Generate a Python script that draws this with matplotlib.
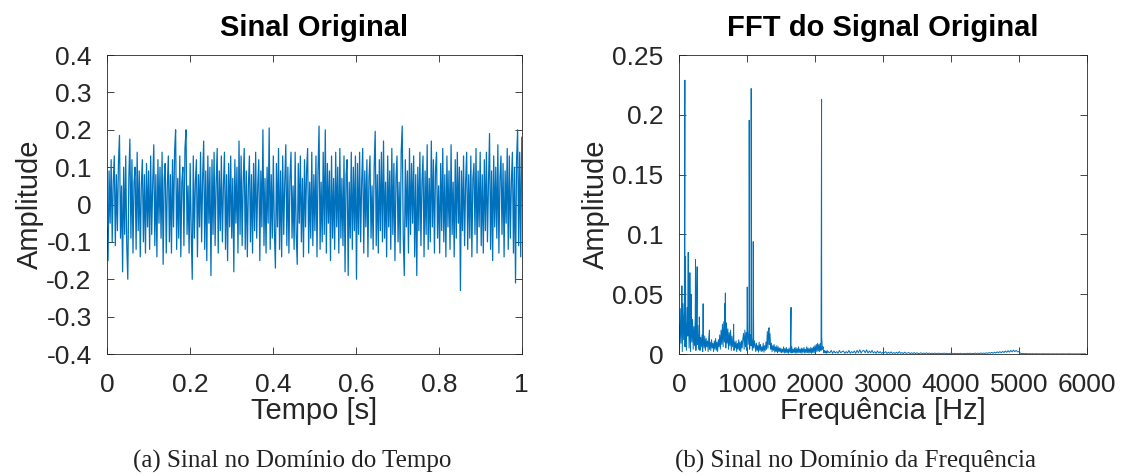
import numpy as np
import matplotlib
matplotlib.use('Agg')
import matplotlib.pyplot as plt

plt.rcParams['font.family'] = ['Liberation Sans', 'DejaVu Sans']
plt.rcParams['axes.unicode_minus'] = False

# Time-domain signal, amplitude in thousandths
signal_milli = [
    -60, -150, 90, -50, 120, -100, 60, 130, -110, 80, -70, 110, 185, -90, 50, -180, 100, -80, 130, -110,
    -200, 70, 175, -90, 120, -130, 60, 100, -120, 140, -70, 90, -140, 50, 120, -100, 80, -130, 110, -60,
    90, -120, 130, -80, 60, 160, -110, 80, -140, 120, -50, 100, -90, 140, -160, 70, 110, -130, 50, 130,
    -100, 80, -130, 120, -60, 140, 200, -120, 70, -90, 130, -140, 60, 100, -110, 150, 200, -80, 50, -130,
    110, -70, -200, 130, -90, 60, 120, -140, 80, -60, 140, -100, 70, 170, -120, 90, -150, 130, -50, 100,
    -190, 120, -80, 140, -110, 60, 150, -130, 90, -70, 130, -100, 50, 140, -120, 80, -150, 110, -60, 130,
    -90, 70, -180, 120, -50, 100, -130, 170, -80, 130, -110, 60, 150, -120, 90, -140, 50, 130, -100, 80,
    -130, 110, -70, 140, -90, 50, 120, -150, 90, -60, 200, -110, 70, -130, 100, -50, 205, -120, 80, -90,
    130, -70, -170, 110, -60, 150, -120, 90, -140, 130, -80, 60, 160, -110, 100, -130, 70, 140, -90, 50,
    -120, 140, -80, -160, 110, -50, 130, -100, 70, -140, 120, -60, 90, 150, -130, 60, -90, 140, -110, 80,
    -70, 130, -140, 90, 210, -120, 60, -100, 140, -80, 200, -130, 110, -50, 90, -150, 130, -90, 70, -120,
    140, -60, 100, -130, 150, -90, 70, -110, 130, -180, 80, 120, -190, 60, -90, 140, -120, 100, -70, 130,
    -200, 110, -80, 140, -100, 60, 150, -130, 90, -60, 120, -140, 70, 130, -90, 50, -120, 100, 196, -110,
    80, -130, 120, -70, 140, -100, 170, -90, 60, -140, 130, -60, 90, -120, 150, -80, 110, -150, 70, 130,
    -100, 60, -130, 140, 210, -90, -190, 120, -60, 90, -130, 150, -80, 110, -50, 130, -140, 80, -190, 100,
    -70, 140, -110, 60, 130, -140, 90, -80, 160, -120, 70, -100, 170, -60, 120, -130, 90, 140, -90, 50,
    -130, 110, -70, 150, -100, 80, -140, 130, -60, 90, -120, 160, -80, 60, -140, 120, -90, 140, -50, 100,
    -230, 90, -70, 130, -110, 60, 140, -120, 80, -90, 130, -140, 70, 110, -80, 150, -130, 90, -60, 140,
    -110, 80, -130, 120, -70, 140, -100, 60, 190, -120, 90, -150, 130, -60, 100, -90, 160, -130, 70, 130,
    -80, 110, -140, 90, -50, 150, -120, 130, -90, 60, 140, -130, 100, -210, 120, 200, -110, 140, -140, 180,
]

# Spectrum floor, 0-2190 Hz on a 10 Hz grid, units of 1e-4
floor_low = [
    250, 40, 380, 90, 300, 20, 420, 120, 350, 60, 280, 30, 390, 150, 320, 50, 260, 20, 340, 100,
    290, 40, 230, 70, 310, 30, 200, 80, 240, 40,
    170, 30, 140, 60, 160, 20, 120, 50, 150, 30, 130, 60, 110, 20, 140, 40, 100, 30, 120, 50,
    90, 20, 110, 40, 130, 30, 100, 20, 120, 60,
    160, 40, 200, 80, 250, 60, 270, 100, 230, 50, 260, 90, 210, 40, 180, 70, 200, 30, 150, 60,
    120, 30, 100, 50, 110, 20, 90, 40, 120, 30, 100, 20, 110, 50, 130,
    170, 40, 200, 60, 180, 30, 210, 80, 190, 40, 160, 70, 150, 30, 130, 50, 110,
    80, 20, 90, 30, 70, 15, 100, 30, 80, 20, 60, 25, 90, 15, 70, 30, 100, 40,
    190, 50, 210, 80, 170, 40,
    90, 20, 70, 30, 80, 15, 60, 20, 70, 10, 60, 20, 50, 15,
    50, 10, 40, 15, 60, 8, 45, 12, 55, 10, 40, 6, 50, 15, 45, 8, 60, 10, 40, 12,
    50, 6, 55, 10, 45, 8, 60, 12, 40, 10, 50, 6, 45, 15, 55, 8, 40, 10, 60, 12,
    50, 8, 45, 10, 55, 6, 50, 12, 60, 10,
    70, 15, 80, 20, 90, 25, 80, 20, 90, 30, 145, 40, 60, 10, 30, 8, 25, 6, 30, 10,
]

# Spectrum floor, 2200-5980 Hz on a 20 Hz grid, units of 1e-4
floor_high = [
    20, 10, 30, 5, 25, 8, 20, 6, 30, 10, 20, 25, 5, 20, 8, 30, 6, 20, 10, 25, 5,
    30, 10, 35, 8, 25, 30, 10, 35, 8, 25, 10, 30, 8, 20, 5, 25, 8, 20, 5, 15,
    10, 20, 4, 15, 5, 18, 4, 12, 5, 15, 4, 20, 5, 12, 4, 15, 5, 8, 12, 3, 10, 4, 12, 3, 10,
    4, 5, 10, 3, 8, 3, 10, 3, 8, 3, 7, 3, 8, 3, 5, 7, 3, 6, 2, 8, 3, 6, 2, 5, 6,
    5, 2, 6, 2, 5, 2, 6, 3, 2, 5, 2, 6, 3, 7, 2, 6, 3, 8, 3, 7, 3, 9, 4, 8, 4,
    10, 5, 12, 6, 14, 6, 15, 8, 18, 10, 20, 10, 22, 12, 25, 14, 28, 15, 30, 18, 32, 20, 30, 18, 20,
    8, 3, 4, 2, 4, 2, 2, 3, 1, 3, 1, 2, 3, 1, 2, 1, 2, 2, 1, 2, 1, 2, 1, 1, 2,
    1, 1, 2, 1, 1, 1, 2, 1, 1, 1, 1, 2, 1, 1, 1, 1, 1, 1, 1, 1, 1, 1, 1, 1,
]

# Spectral peaks (Hz, amplitude)
peak_freqs = [44, 88, 98, 137, 161, 180, 244, 268, 300, 356, 449, 672, 683, 805,
              1005, 1034, 1063, 1093, 1327, 1649, 2098]
peak_amps = [0.057, 0.229, 0.0816, 0.085, 0.068, 0.05, 0.079, 0.073, 0.031, 0.042, 0.02,
             0.042, 0.051, 0.025, 0.056, 0.1955, 0.222, 0.094, 0.022, 0.039, 0.213]

time_yticks = [-0.4, -0.3, -0.2, -0.1, 0, 0.1, 0.2, 0.3, 0.4]
time_ylabels = ['-0.4', '-0.3', '-0.2', '-0.1', '0', '0.1', '0.2', '0.3', '0.4']
time_xticks = [0, 0.2, 0.4, 0.6, 0.8, 1]
time_xlabels = ['0', '0.2', '0.4', '0.6', '0.8', '1']
fft_yticks = [0, 0.05, 0.1, 0.15, 0.2, 0.25]
fft_ylabels = ['0', '0.05', '0.1', '0.15', '0.2', '0.25']
fft_xticks = [0, 1000, 2000, 3000, 4000, 5000, 6000]
fft_xlabels = ['0', '1000', '2000', '3000', '4000', '5000', '6000']

line_color = '#0072BD'
axis_color = '#262626'

t = np.linspace(0, 1, len(signal_milli))
x = np.array(signal_milli) / 1000.0

f_low = np.arange(len(floor_low)) * 10.0
f_high = len(floor_low) * 10.0 + np.arange(len(floor_high)) * 20.0
f_all = np.concatenate([f_low, f_high, peak_freqs])
a_all = np.concatenate([np.array(floor_low) / 1e4, np.array(floor_high) / 1e4, peak_amps])
order = np.argsort(f_all, kind='stable')
f_all, a_all = f_all[order], a_all[order]

fig = plt.figure(figsize=(11.24, 4.76), dpi=100)
ax1 = fig.add_axes([0.0952, 0.2563, 0.369, 0.628])
ax2 = fig.add_axes([0.604, 0.2563, 0.363, 0.628])

ax1.plot(t, x, color=line_color, lw=0.9)
ax2.plot(f_all, a_all, color=line_color, lw=0.7)

def style(ax, xt, xl, yt, yl, xlim, ylim, title, xlabel):
    ax.set_xlim(xlim)
    ax.set_ylim(ylim)
    ax.set_xticks(xt)
    ax.set_xticklabels(xl)
    ax.set_yticks(yt)
    ax.set_yticklabels(yl)
    ax.tick_params(direction='in', top=True, right=True, length=5, width=0.6,
                   color=axis_color, labelcolor=axis_color, labelsize=19)
    ax.tick_params(axis='x', pad=14)
    ax.tick_params(axis='y', pad=11)
    for s in ax.spines.values():
        s.set_color(axis_color)
        s.set_linewidth(0.6)
    ax.set_title(title, fontsize=21, fontweight='bold', pad=14)
    ax.set_xlabel(xlabel, fontsize=21, color=axis_color, labelpad=0)
    ax.set_ylabel('Amplitude', fontsize=21, color=axis_color, labelpad=2)

style(ax1, time_xticks, time_xlabels, time_yticks, time_ylabels, (0, 1), (-0.4, 0.4),
      'Sinal Original', 'Tempo [s]')
style(ax2, fft_xticks, fft_xlabels, fft_yticks, fft_ylabels, (0, 6000), (0, 0.25),
      'FFT do Signal Original', 'Frequência [Hz]')

fig.text(0.26, 0.017, '(a) Sinal no Domínio do Tempo', ha='center', va='baseline',
         fontsize=18, family=['Liberation Serif', 'DejaVu Serif'], color='#222222')
fig.text(0.7615, 0.017, '(b) Sinal no Domínio da Frequência', ha='center', va='baseline',
         fontsize=18, family=['Liberation Serif', 'DejaVu Serif'], color='#222222')

fig.savefig('out.png', dpi=100)
